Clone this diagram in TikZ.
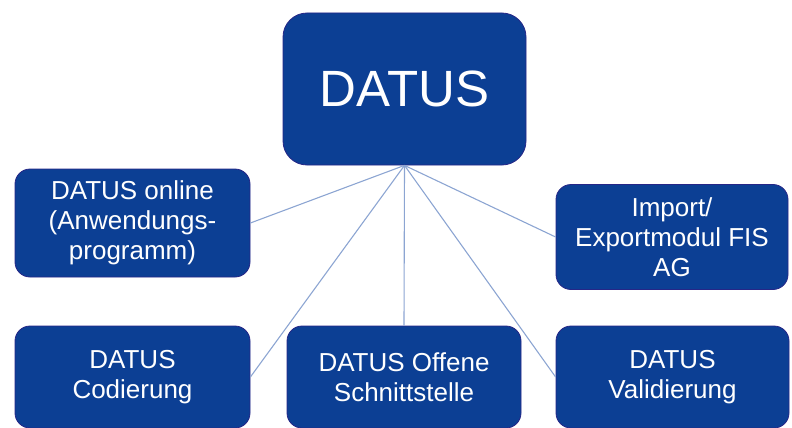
\documentclass[tikz,border=0pt]{standalone}
\usepackage{fontspec}
\setmainfont{Liberation Sans}
\usetikzlibrary{positioning}
\definecolor{datusblue}{RGB}{12,63,148}
\definecolor{datusedge}{RGB}{38,38,135}
\definecolor{linkblue}{RGB}{140,165,210}

\begin{document}
\begin{tikzpicture}[x=1pt,y=-1pt,
    box/.style={draw=datusedge,line width=0.8pt,fill=datusblue,rounded corners=15pt,
                text=white,align=center,inner sep=0pt,font=\fontsize{26}{30}\selectfont},
    link/.style={draw=linkblue,line width=1.1pt}]
    \useasboundingbox (0,0) rectangle (792,428);

    % main box
    \node[box,minimum width=243pt,minimum height=152pt,rounded corners=24pt,
          font=\fontsize{51}{60}\selectfont] (datus) at (404.5,89) {DATUS};

    % side boxes
    \node[box,minimum width=235pt,minimum height=108pt] (online) at (132.5,223)
        {DATUS online\\(Anwendungs-\\programm)};
    \node[box,minimum width=232pt,minimum height=105pt] (import) at (672,237)
        {Import/\\Exportmodul FIS\\AG};

    % bottom row
    \node[box,minimum width=235pt,minimum height=102pt] (codierung) at (132.5,377)
        {DATUS\\Codierung};
    \node[box,minimum width=234pt,minimum height=102pt] (offene) at (404,377)
        {DATUS Offene\\Schnittstelle};
    \node[box,minimum width=233pt,minimum height=102pt] (validierung) at (672.5,377)
        {DATUS\\Validierung};

    \draw[link] (datus.south) -- (online.east);
    \draw[link] (datus.south) -- (import.west);
    \draw[link] (datus.south) -- (codierung.east);
    \draw[link] (datus.south) -- (offene.north);
    \draw[link] (datus.south) -- (validierung.west);
\end{tikzpicture}
\end{document}
